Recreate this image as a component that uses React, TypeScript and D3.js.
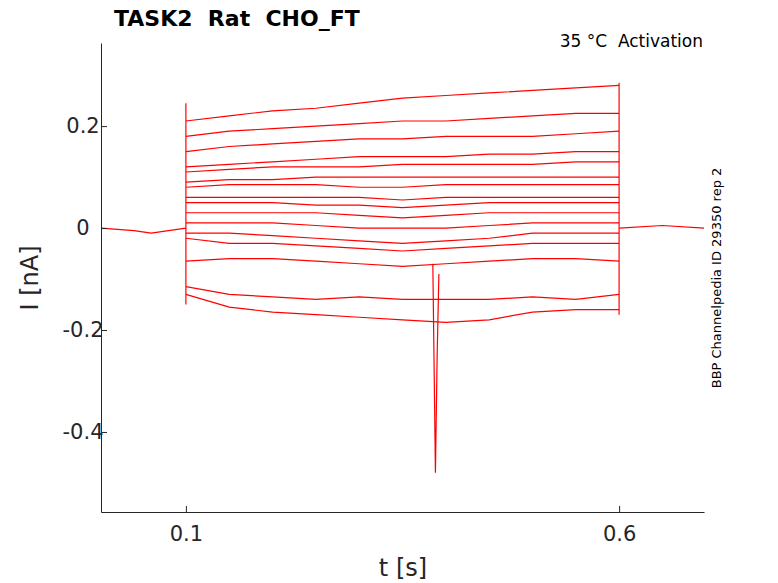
import { useRef, useEffect } from 'react';
import * as d3 from 'd3';

const stepTimes = [0.1, 0.15, 0.2, 0.25, 0.3, 0.35, 0.4, 0.45, 0.5, 0.55, 0.6];
const traces: number[][] = [
  [0.21, 0.22, 0.23, 0.235, 0.245, 0.255, 0.26, 0.265, 0.27, 0.275, 0.28],
  [0.18, 0.19, 0.195, 0.2, 0.205, 0.21, 0.21, 0.215, 0.22, 0.225, 0.225],
  [0.15, 0.16, 0.165, 0.17, 0.175, 0.175, 0.18, 0.18, 0.18, 0.185, 0.19],
  [0.12, 0.125, 0.13, 0.135, 0.14, 0.14, 0.14, 0.145, 0.145, 0.15, 0.15],
  [0.11, 0.115, 0.12, 0.12, 0.12, 0.125, 0.125, 0.125, 0.125, 0.13, 0.13],
  [0.09, 0.095, 0.095, 0.1, 0.1, 0.1, 0.1, 0.1, 0.1, 0.1, 0.1],
  [0.08, 0.085, 0.085, 0.085, 0.08, 0.08, 0.085, 0.085, 0.085, 0.085, 0.085],
  [0.06, 0.06, 0.06, 0.06, 0.06, 0.055, 0.06, 0.06, 0.06, 0.06, 0.06],
  [0.05, 0.05, 0.05, 0.045, 0.045, 0.04, 0.045, 0.05, 0.05, 0.05, 0.05],
  [0.03, 0.03, 0.03, 0.03, 0.025, 0.02, 0.025, 0.03, 0.03, 0.03, 0.03],
  [0.01, 0.01, 0.01, 0.005, 0, 0, 0, 0.005, 0.01, 0.01, 0.01],
  [-0.01, -0.01, -0.015, -0.02, -0.025, -0.03, -0.025, -0.02, -0.01, -0.01, -0.01],
  [-0.02, -0.03, -0.03, -0.035, -0.04, -0.045, -0.04, -0.035, -0.03, -0.03, -0.03],
  [-0.065, -0.06, -0.06, -0.065, -0.07, -0.075, -0.07, -0.065, -0.06, -0.06, -0.065],
  [-0.115, -0.13, -0.135, -0.14, -0.135, -0.14, -0.14, -0.14, -0.135, -0.14, -0.13],
  [-0.13, -0.155, -0.165, -0.17, -0.175, -0.18, -0.185, -0.18, -0.165, -0.16, -0.16],
];
const onTransient: [number, number][] = [[0.1, -0.15], [0.1, 0.245]];
const offTransient: [number, number][] = [[0.6, -0.17], [0.6, 0.285]];
const spike: [number, number][] = [[0.385, -0.07], [0.388, -0.48], [0.39, -0.25], [0.392, -0.09]];
const baseline: [number, number][] = [[0.002, 0], [0.04, -0.005], [0.06, -0.01], [0.0999, 0]];
const baselineAfter: [number, number][] = [[0.6001, 0], [0.65, 0.005], [0.698, 0]];
const xTicks = [0.1, 0.6];
const yTicks = [-0.4, -0.2, 0, 0.2];

const W = 778, H = 583;
const m = { left: 101, right: 74, top: 43, bottom: 71 };

export default function App() {
  const ref = useRef<SVGSVGElement>(null);
  useEffect(() => {
    const svg = d3.select(ref.current!);
    svg.selectAll('*').remove();
    const x = d3.scaleLinear().domain([0.002, 0.698]).range([m.left, W - m.right]);
    const y = d3.scaleLinear().domain([-0.557, 0.363]).range([H - m.bottom, m.top]);
    const line = d3.line<[number, number]>().x(d => x(d[0])).y(d => y(d[1]));
    const g = svg.append('g');
    const draw = (pts: [number, number][]) =>
      g.append('path').datum(pts).attr('d', line).attr('fill', 'none').attr('stroke', '#ff0000').attr('stroke-width', 1.2);
    draw(baseline);
    draw(baselineAfter);
    traces.forEach(t => draw(stepTimes.map((s, i) => [s, t[i]] as [number, number])));
    draw(onTransient);
    draw(offTransient);
    draw(spike);

    const font = 'DejaVu Sans, sans-serif';
    const xa = svg.append('g').attr('transform', `translate(0,${H - m.bottom})`)
      .call(d3.axisBottom(x).tickValues(xTicks).tickSizeInner(-6).tickSizeOuter(0).tickPadding(14).tickFormat(d3.format('')));
    const ya = svg.append('g').attr('transform', `translate(${m.left},0)`)
      .call(d3.axisLeft(y).tickValues(yTicks).tickSizeInner(-6).tickSizeOuter(0).tickPadding(30).tickFormat(d => (d === 0 ? '0' : String(d))));
    [xa, ya].forEach(a => {
      a.selectAll('path,line').attr('stroke', '#262626');
      a.selectAll('text').attr('font-size', 21).attr('font-family', font).attr('fill', '#262626');
    });
    ya.selectAll('text').attr('text-anchor', 'middle').attr('dx', 12);

    svg.append('text').attr('x', 403).attr('y', 576).attr('text-anchor', 'middle')
      .attr('font-size', 24).attr('font-family', font).attr('fill', '#262626').text('t [s]');
    svg.append('text').attr('transform', 'translate(38,278) rotate(-90)').attr('text-anchor', 'middle')
      .attr('font-size', 24).attr('font-family', font).attr('fill', '#262626').text('I [nA]');
    svg.append('text').attr('x', 114).attr('y', 26).attr('font-weight', 'bold').style('white-space', 'pre')
      .attr('font-size', 22).attr('font-family', font).text('TASK2  Rat  CHO_FT');
    svg.append('text').attr('x', 703).attr('y', 47).attr('text-anchor', 'end').style('white-space', 'pre')
      .attr('font-size', 17).attr('font-family', font).text('35 °C  Activation');
    svg.append('text').attr('transform', 'translate(721,278) rotate(-90)').attr('text-anchor', 'middle')
      .attr('font-size', 13).attr('font-family', font).text('BBP Channelpedia ID 29350 rep 2');
  }, []);
  return <svg ref={ref} width={W} height={H} style={{ position: 'absolute', left: 0, top: 0, background: '#fff' }} />;
}
